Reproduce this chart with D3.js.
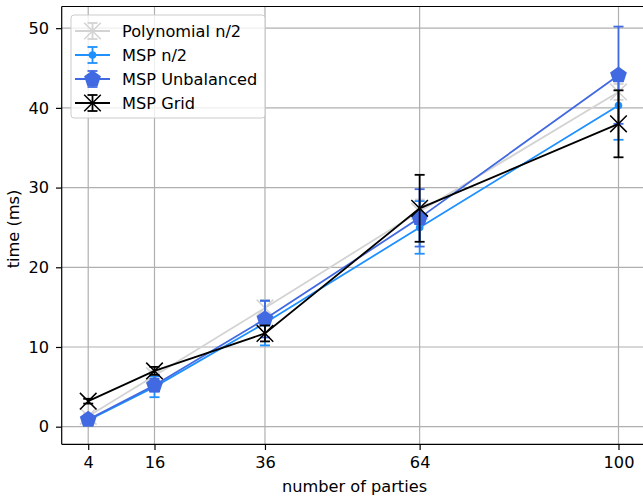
<!DOCTYPE html>
<html><head><meta charset="utf-8">
<script src="https://cdn.jsdelivr.net/npm/d3@7"></script>
<style>body{margin:0;background:#fff}svg{display:block;font-family:"DejaVu Sans",sans-serif}</style>
</head><body><svg id="c" width="643" height="497"></svg>
<script>
const parties = [4, 16, 36, 64, 100];
const xTicks = [4, 16, 36, 64, 100];
const yTicks = [0, 10, 20, 30, 40, 50];
const polyMean = [1.3, 6.4, 14.9, 27.0, 42.0];
const polyErr = [0.3, 0.6, 1.0, 1.5, 1.0];
const mspMean = [0.8, 5.0, 13.0, 25.0, 40.3];
const mspErr = [0.4, 1.3, 2.8, 3.3, 4.3];
const unbMean = [0.9, 5.2, 13.5, 26.2, 44.1];
const unbErr = [0.4, 0.8, 2.3, 3.6, 6.1];
const gridMean = [3.2, 7.0, 11.7, 27.4, 38.0];
const gridErr = [0.3, 0.5, 1.0, 4.2, 4.2];
const seriesNames = ["Polynomial n/2", "MSP n/2", "MSP Unbalanced", "MSP Grid"];

const FS = 16.2;
const svg = d3.select("#c");
const L = 61.7, R = 645, T = 6.5, B = 444.3;
const x = d3.scaleLinear().domain([-0.8, 104.8]).range([L, R]);
const y = d3.scaleLinear().domain([-2.21, 52.72]).range([B, T]);

// grid
const g = svg.append("g");
g.selectAll(".gx").data(xTicks).enter().append("line")
  .attr("x1", d => x(d)).attr("x2", d => x(d)).attr("y1", T).attr("y2", B)
  .attr("stroke", "#b0b0b0").attr("stroke-width", 1.2);
g.selectAll(".gy").data(yTicks).enter().append("line")
  .attr("y1", d => y(d)).attr("y2", d => y(d)).attr("x1", L).attr("x2", R)
  .attr("stroke", "#b0b0b0").attr("stroke-width", 1.2);

// axes
const xAxis = d3.axisBottom(x).tickValues(xTicks).tickSize(5.7).tickPadding(5.7);
const yAxis = d3.axisLeft(y).tickValues(yTicks).tickSize(5.7).tickPadding(7);
const ax = svg.append("g").attr("transform", `translate(0,${B})`).call(xAxis);
const ay = svg.append("g").attr("transform", `translate(${L},0)`).call(yAxis);
[ax, ay].forEach(a => {
  a.select(".domain").remove();
  a.selectAll("line").attr("stroke", "#000").attr("stroke-width", 1.2);
  a.selectAll("text").attr("font-size", FS).attr("fill", "#000").attr("font-family", "DejaVu Sans");
});
ax.selectAll("text").attr("y", 24.2).attr("dy", 0);
svg.append("line").attr("x1", L).attr("x2", L).attr("y1", T).attr("y2", B).attr("stroke", "#000").attr("stroke-width", 1.2);
svg.append("line").attr("x1", L).attr("x2", R).attr("y1", B).attr("y2", B).attr("stroke", "#000").attr("stroke-width", 1.2);
svg.append("line").attr("x1", L).attr("x2", R).attr("y1", T).attr("y2", T).attr("stroke", "#000").attr("stroke-width", 1.2);

svg.append("text").attr("x", 354.5).attr("y", 491.7).attr("text-anchor", "middle")
  .attr("font-size", FS).text("number of parties");
svg.append("text").attr("transform", `translate(18.5,${229}) rotate(-90)`).attr("text-anchor", "middle")
  .attr("font-size", FS).text("time (ms)");

function pentagon(r) {
  const pts = d3.range(5).map(i => {
    const a = -Math.PI / 2 + i * 2 * Math.PI / 5;
    return [r * Math.cos(a), r * Math.sin(a)];
  });
  return "M" + pts.map(p => p.join(",")).join("L") + "Z";
}
function marker(sel, type, color) {
  if (type === "x") {
    const h = 8.3;
    sel.append("path").attr("d", `M${-h},${-h}L${h},${h}M${-h},${h}L${h},${-h}`)
      .attr("stroke", color).attr("stroke-width", 1.5).attr("fill", "none");
  } else if (type === "o") {
    sel.append("circle").attr("r", 3.8).attr("fill", color);
  } else {
    sel.append("path").attr("d", pentagon(8.8)).attr("fill", color);
  }
}

const series = [
  { name: seriesNames[0], mean: polyMean, err: polyErr, color: "#d3d3d3", m: "x" },
  { name: seriesNames[1], mean: mspMean, err: mspErr, color: "#1e90ff", m: "o" },
  { name: seriesNames[2], mean: unbMean, err: unbErr, color: "#4169e1", m: "p" },
  { name: seriesNames[3], mean: gridMean, err: gridErr, color: "#000000", m: "x" }
];
const capW = 5;
const LW = 1.8;
const line = d3.line().x(d => x(d[0])).y(d => y(d[1]));
series.forEach(s => {
  const sg = svg.append("g");
  const pts = parties.map((p, i) => [p, s.mean[i], s.err[i]]);
  sg.append("path").attr("d", line(pts)).attr("fill", "none").attr("stroke", s.color).attr("stroke-width", LW);
  pts.forEach(p => {
    const px = x(p[0]), lo = y(p[1] - p[2]), hi = y(p[1] + p[2]);
    sg.append("line").attr("x1", px).attr("x2", px).attr("y1", lo).attr("y2", hi).attr("stroke", s.color).attr("stroke-width", LW);
    [lo, hi].forEach(yy => sg.append("line").attr("x1", px - capW).attr("x2", px + capW).attr("y1", yy).attr("y2", yy).attr("stroke", s.color).attr("stroke-width", LW));
    marker(sg.append("g").attr("transform", `translate(${px},${y(p[1])})`), s.m, s.color);
  });
});

// legend
const lg = svg.append("g");
lg.append("rect").attr("x", 71).attr("y", 15).attr("width", 194).attr("height", 103).attr("rx", 3)
  .attr("fill", "#fff").attr("fill-opacity", 0.8).attr("stroke", "#cccccc").attr("stroke-width", 1);
series.forEach((s, i) => {
  const cy = 31 + i * 24;
  const cx = 92.5;
  lg.append("line").attr("x1", 75).attr("x2", 110).attr("y1", cy).attr("y2", cy).attr("stroke", s.color).attr("stroke-width", LW);
  lg.append("line").attr("x1", cx).attr("x2", cx).attr("y1", cy - 8).attr("y2", cy + 8).attr("stroke", s.color).attr("stroke-width", LW);
  [cy - 8, cy + 8].forEach(yy => lg.append("line").attr("x1", cx - capW).attr("x2", cx + capW).attr("y1", yy).attr("y2", yy).attr("stroke", s.color).attr("stroke-width", LW));
  marker(lg.append("g").attr("transform", `translate(${cx},${cy})`), s.m, s.color);
  lg.append("text").attr("x", 122).attr("y", cy + 5.8).attr("font-size", FS).text(s.name);
});
</script></body></html>
